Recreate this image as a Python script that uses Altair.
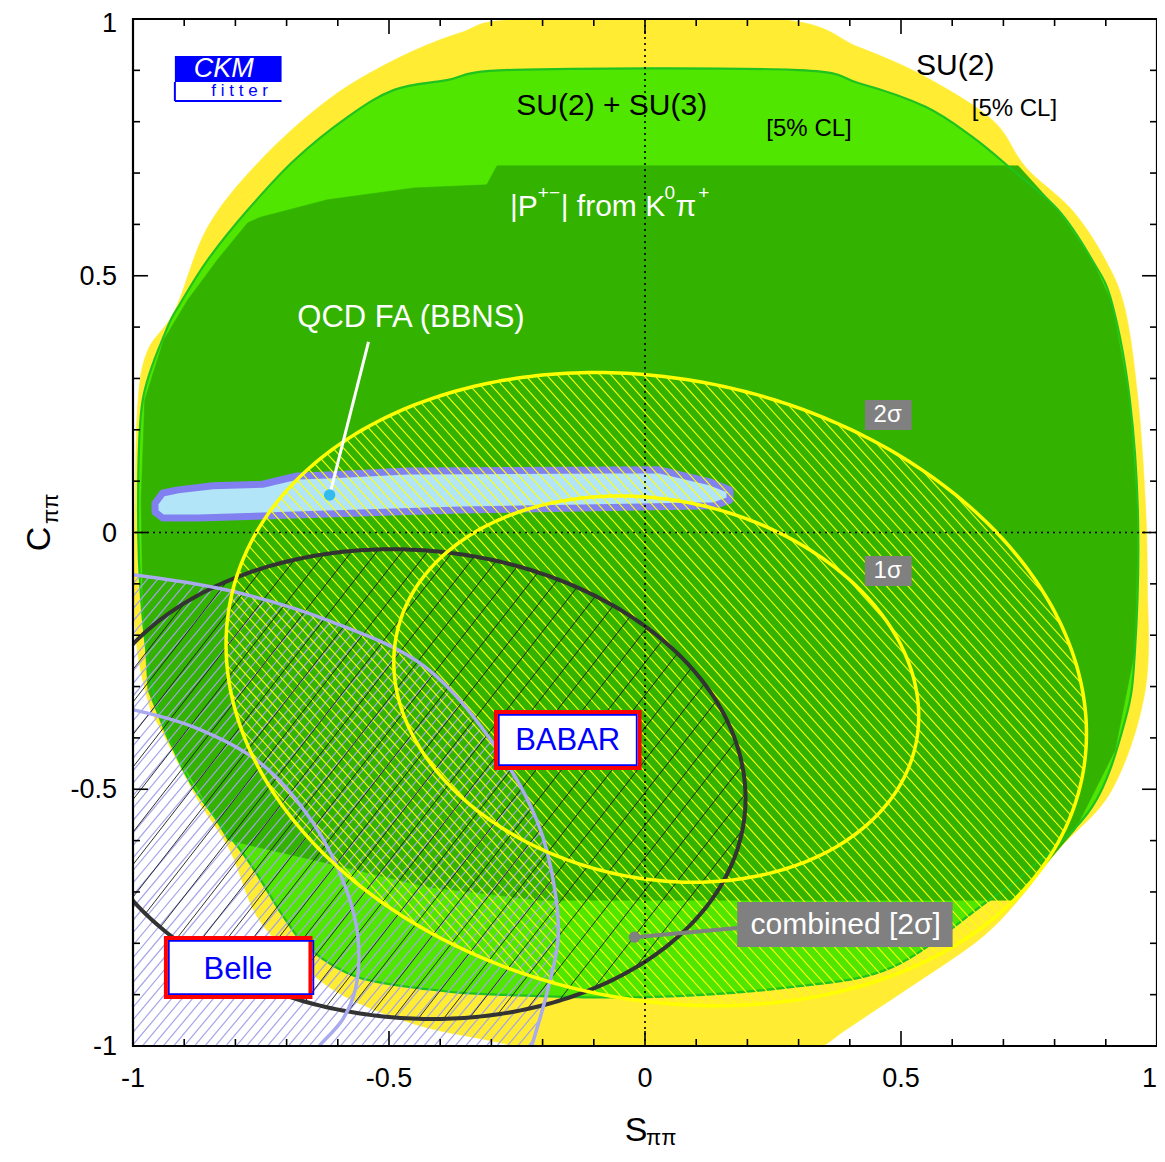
import numpy as np
import pandas as pd
import altair as alt

FONT = "Liberation Sans"
PLOT_W = 1024
PLOT_H = 1027
PX = 513.0  # approx. pixels per unit (used for hatch spacing)

S_DOMAIN = [-1.0, 1.0]
C_DOMAIN = [-1.0, 1.0]
TICK_VALUES = [-1, -0.5, 0, 0.5, 1]
TICK_LABELS = ["-1", "-0.5", "0", "0.5", "1"]

# ---------------- regions (S_pipi, C_pipi) ----------------
# SU(2) 5% CL region (yellow); the bottom runs just past the frame and is clipped there
su2_S = [-0.237, 0.256, 0.418, 0.548, 0.679, 0.743, 0.834, 0.899, 0.938, 0.963, 0.977, 0.981, 0.977, 0.912,
         0.807, 0.729, 0.651, 0.509, 0.450, 0.390, 0.330, 0.250, -0.170, -0.220, -0.300, -0.445, -0.591, -0.679,
         -0.757, -0.811, -0.873, -0.942, -0.971, -0.996, -0.996, -0.990, -0.971, -0.918, -0.854, -0.751, -0.620,
         -0.490, -0.361]
su2_C = [1.0, 1.0, 0.945, 0.887, 0.803, 0.712, 0.628, 0.531, 0.433, 0.258, 0.063, -0.092, -0.307, -0.501,
         -0.618, -0.716, -0.794, -0.891, -0.930, -0.970, -1.010, -1.030, -1.030, -1.010, -0.990, -0.959, -0.901,
         -0.833, -0.749, -0.618, -0.521, -0.390, -0.326, -0.184, 0.063, 0.258, 0.355, 0.433, 0.595, 0.725, 0.842,
         0.920, 0.973]

# SU(2)+SU(3) 5% CL region (light green)
su23_S = [-0.256, 0.289, 0.418, 0.548, 0.640, 0.718, 0.807, 0.873, 0.912, 0.947, 0.963, 0.957, 0.938, 0.873,
          0.743, 0.665, 0.484, 0.289, 0.003, -0.289, -0.420, -0.561, -0.653, -0.705, -0.776, -0.879, -0.928,
          -0.961, -0.984, -0.990, -0.981, -0.935, -0.907, -0.854, -0.776, -0.685, -0.581, -0.490, -0.387]
su23_C = [0.901, 0.901, 0.875, 0.829, 0.770, 0.706, 0.628, 0.531, 0.447, 0.258, 0.024, -0.229, -0.365, -0.535,
          -0.663, -0.721, -0.846, -0.885, -0.905, -0.900, -0.890, -0.866, -0.813, -0.750, -0.638, -0.501, -0.404,
          -0.307, -0.131, 0.063, 0.258, 0.394, 0.447, 0.531, 0.628, 0.725, 0.809, 0.862, 0.881]

# |P+-| from K0 pi+ region (dark green)
pk_S = [-0.776, -0.751, -0.620, -0.451, -0.309, -0.289, 0.729, 0.807, 0.873, 0.912, 0.947, 0.963, 0.957, 0.918,
        0.840, 0.723, -0.205, -0.426, -0.620, -0.815, -0.873, -0.932, -0.971, -0.981, -0.984, -0.977, -0.940,
        -0.893, -0.835]
pk_C = [0.603, 0.614, 0.648, 0.671, 0.677, 0.714, 0.714, 0.628, 0.531, 0.447, 0.258, 0.024, -0.229, -0.424,
        -0.579, -0.716, -0.716, -0.690, -0.644, -0.599, -0.501, -0.404, -0.307, -0.131, 0.063, 0.258, 0.375,
        0.453, 0.531]

# QCD FA (BBNS) region
qcd_S = [-0.957, -0.942, -0.912, -0.844, -0.747, -0.679, -0.620, -0.464, 0.028, 0.129, 0.166, 0.166, 0.135,
         -0.094, -0.361, -0.620, -0.873, -0.942, -0.957]
qcd_C = [0.057, 0.077, 0.083, 0.091, 0.094, 0.110, 0.112, 0.120, 0.122, 0.098, 0.083, 0.063, 0.052, 0.048,
         0.044, 0.036, 0.028, 0.028, 0.040]
qcd_point = [-0.616, 0.073]
qcd_label_anchor = [-0.540, 0.371]

# Belle contours (they run out of the frame)
belle1_S = [-1.010, -0.881, -0.751, -0.648, -0.583, -0.560, -0.566, -0.591, -0.636, -0.644]
belle1_C = [-0.343, -0.379, -0.449, -0.566, -0.696, -0.794, -0.891, -0.949, -1.000, -1.012]
belle2_S = [-1.010, -0.817, -0.622, -0.429, -0.287, -0.209, -0.176, -0.170, -0.190, -0.225]
belle2_C = [-0.081, -0.112, -0.170, -0.262, -0.424, -0.566, -0.696, -0.794, -0.891, -1.012]

# BABAR and combined measurements: centre, (sigma_S, sigma_C), correlation
babar_center = [0.022, -0.305]
babar_sigma = [0.338, 0.248]
babar_rho = -0.14
comb_center = [-0.455, -0.49]
comb_sigma = [0.262, 0.184]
comb_rho = -0.06
K1SIG = 2.30   # 2D delta chi2 for 1 sigma
K2SIG = 6.18   # 2D delta chi2 for 2 sigma

combined_marker = [-0.0205, -0.788]
combined_label_edge = [0.180, -0.770]

# ---------------- helpers ----------------
xs = alt.Scale(domain=S_DOMAIN, nice=False, zero=False)
ys = alt.Scale(domain=C_DOMAIN, nice=False, zero=False)


def X(f="S"):
    return alt.X(f"{f}:Q", scale=xs, axis=None)


def Y(f="C"):
    return alt.Y(f"{f}:Q", scale=ys, axis=None)


def poly_df(S, C):
    return pd.DataFrame({"S": S, "C": C, "i": np.arange(len(S))})


def filled_poly(S, C, fill, stroke=None, sw=0.6, interp="linear-closed"):
    return alt.Chart(poly_df(S, C)).mark_line(
        interpolate=interp, fill=fill, stroke=stroke if stroke else fill,
        strokeWidth=sw, clip=True, strokeJoin="round"
    ).encode(x=X(), y=Y(), order="i:Q")


def outline_poly(S, C, stroke, sw, interp="linear-closed"):
    return alt.Chart(poly_df(S, C)).mark_line(
        interpolate=interp, stroke=stroke, strokeWidth=sw, clip=True, strokeJoin="round"
    ).encode(x=X(), y=Y(), order="i:Q")


def cov_of(sig, rho):
    sx, sy = sig
    return np.array([[sx * sx, rho * sx * sy], [rho * sx * sy, sy * sy]])


def ellipse_df(center, sig, rho, k, n=361):
    L = np.linalg.cholesky(cov_of(sig, rho))
    t = np.linspace(0, 2 * np.pi, n)
    pts = (L @ (np.sqrt(k) * np.vstack([np.cos(t), np.sin(t)]))).T + np.array(center)
    return pd.DataFrame({"S": pts[:, 0], "C": pts[:, 1], "i": np.arange(n)})


def polygon_hatch(S, C, theta_deg, spacing_px):
    """Parallel hatch segments clipped to a closed polygon (even-odd rule)."""
    P = np.column_stack([S, C]).astype(float)
    Q = np.roll(P, -1, axis=0)
    th = np.radians(theta_deg)
    u = np.array([np.cos(th), np.sin(th)])
    nv = np.array([-np.sin(th), np.cos(th)])
    h = spacing_px / PX
    pn, qn = P @ nv, Q @ nv
    rows = []
    for m in range(int(np.floor(pn.min() / h)), int(np.ceil(pn.max() / h)) + 1):
        s = m * h
        dp, dq = pn - s, qn - s
        cross = (dp > 0) != (dq > 0)
        if not cross.any():
            continue
        f = dp[cross] / (dp[cross] - dq[cross])
        pts = P[cross] + f[:, None] * (Q[cross] - P[cross])
        ts = np.sort(pts @ u)
        for i in range(0, len(ts) - 1, 2):
            p1 = s * nv + ts[i] * u
            p2 = s * nv + ts[i + 1] * u
            rows.append({"S": p1[0], "C": p1[1], "S2": p2[0], "C2": p2[1]})
    return pd.DataFrame(rows)


def hatch_layer(df, color, sw):
    return alt.Chart(df).mark_rule(color=color, strokeWidth=sw, clip=True).encode(
        x=X(), y=Y(), x2="S2:Q", y2="C2:Q")


def curve_line(df, color, sw, interp="linear"):
    return alt.Chart(df).mark_line(color=color, strokeWidth=sw, clip=True, interpolate=interp).encode(
        x=X(), y=Y(), order="i:Q")


babar1 = ellipse_df(babar_center, babar_sigma, babar_rho, K1SIG)
babar2 = ellipse_df(babar_center, babar_sigma, babar_rho, K2SIG)
comb2 = ellipse_df(comb_center, comb_sigma, comb_rho, K2SIG)
belle1 = poly_df(belle1_S, belle1_C)
belle2 = poly_df(belle2_S, belle2_C)

# Belle 2 sigma region: inside the curve, towards the lower-left (closed outside the frame)
belle_reg_S = belle2_S + [-0.225, -1.06, -1.06]
belle_reg_C = belle2_C + [-1.06, -1.06, -0.081]

layers = []

# filled regions
layers.append(filled_poly(su2_S, su2_C, "#FFEC33", interp="cardinal-closed"))
layers.append(filled_poly(su23_S, su23_C, "#50E600", interp="cardinal-closed"))
layers.append(filled_poly(pk_S, pk_C, "#33B200"))
layers.append(outline_poly(su23_S, su23_C, "#1FC21F", 2.2, interp="cardinal-closed"))
layers.append(filled_poly(qcd_S, qcd_C, "#B3E5F8", stroke="#8080F0", sw=7))

# hatching
layers.append(hatch_layer(polygon_hatch(belle_reg_S, belle_reg_C, 50, 8.0), "#A4A4EA", 1.2))
layers.append(hatch_layer(polygon_hatch(babar2["S"], babar2["C"], -48, 8.0), "#FFFF00", 1.1))
layers.append(hatch_layer(polygon_hatch(comb2["S"], comb2["C"], 52, 20.0), "#1A1A1A", 0.9))

# contours
layers.append(curve_line(comb2, "#333333", 4))
layers.append(curve_line(belle1, "#AAAAEE", 3.5, "catmull-rom"))
layers.append(curve_line(belle2, "#AAAAEE", 3.5, "catmull-rom"))
layers.append(curve_line(babar1, "#FFFF00", 3.5))
layers.append(curve_line(babar2, "#FFFF00", 3.5))

# dotted zero lines
layers.append(alt.Chart(pd.DataFrame({"S": [0.0]})).mark_rule(
    color="black", strokeWidth=1.6, strokeDash=[2, 4]).encode(x=X()))
layers.append(alt.Chart(pd.DataFrame({"C": [0.0]})).mark_rule(
    color="black", strokeWidth=1.6, strokeDash=[2, 4]).encode(y=Y()))

# pointer lines and markers
lines_df = pd.DataFrame({
    "S": [qcd_point[0], combined_marker[0]], "C": [qcd_point[1], combined_marker[1]],
    "S2": [qcd_label_anchor[0], combined_label_edge[0]], "C2": [qcd_label_anchor[1], combined_label_edge[1]],
    "col": ["white", "#808080"], "w": [3.0, 4.0]})
layers.append(alt.Chart(lines_df).mark_rule().encode(
    x=X(), y=Y(), x2="S2:Q", y2="C2:Q",
    color=alt.Color("col:N", scale=None, legend=None),
    strokeWidth=alt.StrokeWidth("w:Q", scale=None, legend=None)))
dots_df = pd.DataFrame({"S": [qcd_point[0], combined_marker[0]], "C": [qcd_point[1], combined_marker[1]],
                        "col": ["#33BBEE", "#808080"]})
layers.append(alt.Chart(dots_df).mark_circle(size=130, opacity=1).encode(
    x=X(), y=Y(), color=alt.Color("col:N", scale=None, legend=None)))

# label boxes
boxes_df = pd.DataFrame([
    {"S": -0.2911, "S2": -0.0107, "C": -0.3496, "C2": -0.4586, "fill": "white", "stroke": "#FF0000", "sw": 4.0},
    {"S": -0.2855, "S2": -0.0163, "C": -0.3553, "C2": -0.4529, "fill": "transparent", "stroke": "#0000FF", "sw": 1.7},
    {"S": -0.9357, "S2": -0.6534, "C": -0.7897, "C2": -0.9046, "fill": "white", "stroke": "#FF0000", "sw": 4.0},
    {"S": -0.9300, "S2": -0.6477, "C": -0.7954, "C2": -0.8989, "fill": "transparent", "stroke": "#0000FF", "sw": 1.7},
    {"S": 0.4294, "S2": 0.5209, "C": 0.258, "C2": 0.1996, "fill": "#808080", "stroke": "#808080", "sw": 0.0},
    {"S": 0.4294, "S2": 0.5209, "C": -0.0458, "C2": -0.1042, "fill": "#808080", "stroke": "#808080", "sw": 0.0},
    {"S": 0.1801, "S2": 0.6008, "C": -0.7196, "C2": -0.8072, "fill": "#808080", "stroke": "#808080", "sw": 0.0},
    {"S": -0.9182, "S2": -0.7098, "C": 0.9279, "C2": 0.8773, "fill": "#0000FF", "stroke": "#0000FF", "sw": 0.0},
])
layers.append(alt.Chart(boxes_df).mark_rect().encode(
    x=X(), y=Y(), x2="S2:Q", y2="C2:Q",
    fill=alt.Fill("fill:N", scale=None, legend=None),
    stroke=alt.Stroke("stroke:N", scale=None, legend=None),
    strokeWidth=alt.StrokeWidth("sw:Q", scale=None, legend=None)))

# CKMfitter logo frame lines
logo_df = pd.DataFrame({"S": [-0.9182, -0.9182], "C": [0.8773, 0.8403], "S2": [-0.9182, -0.7098],
                        "C2": [0.8403, 0.8403]})
layers.append(alt.Chart(logo_df).mark_rule(color="#0000FF", strokeWidth=2).encode(
    x=X(), y=Y(), x2="S2:Q", y2="C2:Q"))

# centred labels
labels_df = pd.DataFrame([
    {"S": 0.606, "C": 0.9085, "t": "SU(2)", "fs": 30, "col": "black"},
    {"S": 0.7215, "C": 0.8257, "t": "[5% CL]", "fs": 24, "col": "black"},
    {"S": -0.065, "C": 0.8306, "t": "SU(2) + SU(3)", "fs": 30, "col": "black"},
    {"S": 0.3204, "C": 0.7858, "t": "[5% CL]", "fs": 24, "col": "black"},
    {"S": -0.457, "C": 0.4177, "t": "QCD FA (BBNS)", "fs": 31, "col": "white"},
    {"S": -0.151, "C": -0.406, "t": "BABAR", "fs": 31, "col": "#0000FF"},
    {"S": -0.795, "C": -0.852, "t": "Belle", "fs": 31, "col": "#0000FF"},
    {"S": 0.474, "C": 0.229, "t": "2σ", "fs": 24, "col": "white"},
    {"S": 0.474, "C": -0.075, "t": "1σ", "fs": 24, "col": "white"},
    {"S": 0.392, "C": -0.764, "t": "combined [2σ]", "fs": 30, "col": "white"},
    {"S": -0.7916, "C": 0.8598, "t": "f i t t e r", "fs": 17, "col": "#0000FF"},
])
layers.append(alt.Chart(labels_df).mark_text(font=FONT, align="center", baseline="middle").encode(
    x=X(), y=Y(), text="t:N",
    size=alt.Size("fs:Q", scale=None, legend=None),
    color=alt.Color("col:N", scale=None, legend=None)))

layers.append(alt.Chart(pd.DataFrame({"S": [-0.8228], "C": [0.9026], "t": ["CKM"]})).mark_text(
    font=FONT, fontStyle="italic", fontSize=27, color="white", align="center", baseline="middle").encode(
    x=X(), y=Y(), text="t:N"))

# |P+-| from K0 pi+ (with superscripts)
pk_label_df = pd.DataFrame([
    {"S": -0.2639, "C": 0.634, "t": "|P", "fs": 30},
    {"S": -0.2093, "C": 0.661, "t": "+−", "fs": 19},
    {"S": -0.1646, "C": 0.634, "t": "| from K", "fs": 30},
    {"S": 0.0380, "C": 0.661, "t": "0", "fs": 19},
    {"S": 0.0594, "C": 0.634, "t": "π", "fs": 30},
    {"S": 0.1040, "C": 0.661, "t": "+", "fs": 19},
])
layers.append(alt.Chart(pk_label_df).mark_text(font=FONT, align="left", baseline="middle", color="white").encode(
    x=X(), y=Y(), text="t:N", size=alt.Size("fs:Q", scale=None, legend=None)))

# inward ticks on all four sides
minor_vals = [round(-0.9 + 0.1 * i, 1) for i in range(19)]
tick_rows = []
for v in minor_vals:
    L = (15.0 if abs(v * 2 - round(v * 2)) < 1e-9 else 7.0) / PX
    tick_rows += [
        {"S": v, "S2": v, "C": -1.0, "C2": -1.0 + L},
        {"S": v, "S2": v, "C": 1.0, "C2": 1.0 - L},
        {"S": -1.0, "S2": -1.0 + L, "C": v, "C2": v},
        {"S": 1.0, "S2": 1.0 - L, "C": v, "C2": v},
    ]
layers.append(alt.Chart(pd.DataFrame(tick_rows)).mark_rule(color="black", strokeWidth=1.6).encode(
    x=X(), y=Y(), x2="S2:Q", y2="C2:Q"))

# frame
layers.append(alt.Chart(pd.DataFrame({"S": [-1.0], "S2": [1.0], "C": [-1.0], "C2": [1.0]})).mark_rect(
    fillOpacity=0, stroke="black", strokeWidth=2.2).encode(x=X(), y=Y(), x2="S2:Q", y2="C2:Q"))

# tick labels (end labels nudged so that they stay inside the page)
xlab_df = pd.DataFrame({"S": TICK_VALUES[:-1], "t": TICK_LABELS[:-1]})
layers.append(alt.Chart(xlab_df).mark_text(font=FONT, fontSize=27, align="center", baseline="middle",
                                           color="black").encode(
    x=X(), y=alt.value(1060), text="t:N"))
layers.append(alt.Chart(pd.DataFrame({"S": TICK_VALUES[-1:], "t": TICK_LABELS[-1:]})).mark_text(
    font=FONT, fontSize=27, align="right", baseline="middle", color="black").encode(
    x=X(), y=alt.value(1060), text="t:N"))
ylab_df = pd.DataFrame({"C": TICK_VALUES[:-1], "t": TICK_LABELS[:-1]})
layers.append(alt.Chart(ylab_df).mark_text(font=FONT, fontSize=27, align="right", baseline="middle",
                                           color="black", dy=1).encode(
    x=alt.value(-16), y=Y(), text="t:N"))
layers.append(alt.Chart(pd.DataFrame({"C": TICK_VALUES[-1:], "t": TICK_LABELS[-1:]})).mark_text(
    font=FONT, fontSize=27, align="right", baseline="middle", color="black", dy=5).encode(
    x=alt.value(-16), y=Y(), text="t:N"))

# axis titles with subscripts
one = pd.DataFrame({"a": [0]})
layers.append(alt.Chart(one).mark_text(text="S", font=FONT, fontSize=34, align="center",
                                       baseline="alphabetic", color="black").encode(
    x=alt.value(503), y=alt.value(1122)))
layers.append(alt.Chart(one).mark_text(text="ππ", font=FONT, fontSize=22, align="left",
                                       baseline="alphabetic", color="black").encode(
    x=alt.value(513), y=alt.value(1126)))
layers.append(alt.Chart(one).mark_text(text="C", font=FONT, fontSize=34, align="center", angle=270,
                                       baseline="alphabetic", color="black").encode(
    x=alt.value(-83), y=alt.value(520)))
layers.append(alt.Chart(one).mark_text(text="ππ", font=FONT, fontSize=22, align="left", angle=270,
                                       baseline="alphabetic", color="black").encode(
    x=alt.value(-75), y=alt.value(505)))

chart = alt.layer(*layers).properties(
    width=PLOT_W, height=PLOT_H,
    autosize=alt.AutoSizeParams(type="none"),
    padding={"left": 125, "top": 11, "right": 0, "bottom": 103},
).configure_view(strokeWidth=0).configure(background="white")

chart.save("out.html", embed_options={"renderer": "svg", "actions": False})
